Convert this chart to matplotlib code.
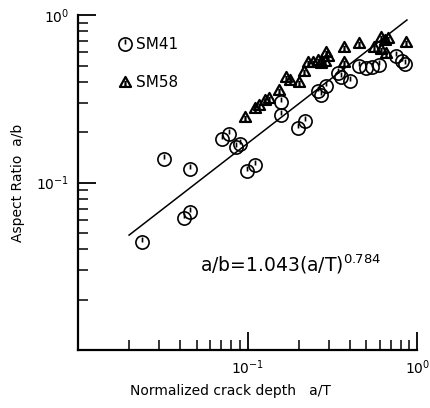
import matplotlib
matplotlib.use("Agg")
import matplotlib.pyplot as plt
from matplotlib.path import Path
from matplotlib.ticker import FixedLocator, LogLocator, NullFormatter
import numpy as np

# SM41 (circles)
sm41_x = [0.0237, 0.0323, 0.0458, 0.0422, 0.0458, 0.0705, 0.0774, 0.0851, 0.0898,
          0.0987, 0.110, 0.158, 0.158, 0.199, 0.218, 0.260, 0.271, 0.290, 0.340,
          0.355, 0.400, 0.452, 0.497, 0.538, 0.592, 0.753, 0.817, 0.851]
sm41_y = [0.0443, 0.139, 0.120, 0.0617, 0.067, 0.181, 0.196, 0.162, 0.171,
          0.118, 0.128, 0.301, 0.252, 0.213, 0.232, 0.351, 0.332, 0.376, 0.450,
          0.426, 0.403, 0.496, 0.482, 0.489, 0.502, 0.567, 0.531, 0.509]

# SM58 (triangles)
sm58_x = [0.096, 0.110, 0.116, 0.126, 0.133, 0.154, 0.169, 0.178, 0.201, 0.215,
          0.228, 0.243, 0.260, 0.271, 0.290, 0.298, 0.286, 0.369, 0.452, 0.369,
          0.553, 0.608, 0.650, 0.676, 0.608, 0.655, 0.863]
sm58_y = [0.245, 0.277, 0.289, 0.310, 0.318, 0.356, 0.426, 0.408, 0.400, 0.462,
          0.524, 0.524, 0.538, 0.516, 0.600, 0.567, 0.531, 0.643, 0.679, 0.524,
          0.643, 0.738, 0.708, 0.728, 0.625, 0.592, 0.689]

# fit a/b = C (a/T)^n
fit_c = 1.043
fit_n = 0.784
fit_range = [0.02, 0.87]

# plotter-style symbols: circle / triangle with a small tick inside
circ = Path.make_compound_path(Path.unit_circle(), Path([[0, 0], [0, 0.75]]))
tri_v = [[-1, -0.8], [1, -0.8], [0, 1], [-1, -0.8]]
tri = Path.make_compound_path(Path(tri_v, closed=True), Path([[0, -0.8], [0, 0.3]]))

fig = plt.figure(figsize=(4.31, 4.08), dpi=100)
ax = fig.add_axes([0.181, 0.142, 0.787, 0.821])

fx = np.array(fit_range)
ax.plot(fx, fit_c * fx ** fit_n, color="black", lw=1.1)

ax.plot(sm41_x, sm41_y, linestyle="none", marker=circ, markersize=9.5,
        markerfacecolor="none", markeredgecolor="black", markeredgewidth=1.2,
        label="SM41")
ax.plot(sm58_x, sm58_y, linestyle="none", marker=tri, markersize=8,
        markerfacecolor="none", markeredgecolor="black", markeredgewidth=1.6,
        label="SM58")

ax.set_xscale("log")
ax.set_yscale("log")
ax.set_xlim(0.01, 1)
ax.set_ylim(0.01, 1)

for s in ["top", "right"]:
    ax.spines[s].set_visible(False)
for s in ["left", "bottom"]:
    ax.spines[s].set_linewidth(1.6)

ax.xaxis.set_major_locator(FixedLocator([0.1, 1]))
ax.yaxis.set_major_locator(FixedLocator([0.1, 1]))
ax.xaxis.set_minor_locator(LogLocator(base=10, subs=np.arange(2, 10)))
ax.yaxis.set_minor_locator(LogLocator(base=10, subs=np.arange(2, 10)))
ax.xaxis.set_minor_formatter(NullFormatter())
ax.yaxis.set_minor_formatter(NullFormatter())
ax.tick_params(which="major", direction="in", length=13, width=1.3, labelsize=10, pad=6)
ax.tick_params(which="minor", direction="in", length=7, width=1.1)

ax.set_xlabel("Normalized crack depth   a/T", fontsize=10)
ax.set_ylabel("Aspect Ratio  a/b", fontsize=10)
ax.xaxis.set_label_coords(0.45, -0.1)
ax.yaxis.set_label_coords(-0.155, 0.5)

ax.text(0.36, 0.235, r"a/b=1.043(a/T)$^{0.784}$", fontsize=13.5,
        transform=ax.transAxes)

ax.legend(loc="upper left", bbox_to_anchor=(0.08, 0.975), frameon=False,
          fontsize=11, handlelength=0.8, handletextpad=0.3, labelspacing=1.5)

fig.savefig("out.png", dpi=100)
